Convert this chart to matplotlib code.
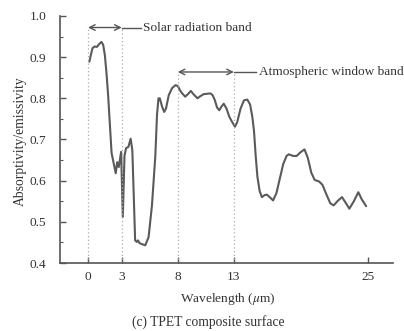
import numpy as np
import matplotlib
matplotlib.use("Agg")
import matplotlib.pyplot as plt
from matplotlib.ticker import MultipleLocator

plt.rcParams["font.family"] = ["Liberation Serif", "DejaVu Serif"]
plt.rcParams["mathtext.fontset"] = "stix"

# Absorptivity/emissivity spectrum of the TPET composite surface
wavelength = [0.12, 0.25, 0.4, 0.6, 0.8, 1.0, 1.2, 1.35, 1.5, 1.65, 1.8, 2.1,
              2.47, 2.6, 2.74, 2.95, 3.1, 3.25, 3.39, 3.6, 3.8, 3.95, 4.2, 4.35,
              4.45, 4.6, 5.1, 5.4, 5.7, 6.0, 6.15, 6.28, 6.4, 6.6, 6.79, 6.95,
              7.2, 7.5, 7.8, 8.0, 8.3, 8.66, 8.9, 9.17, 9.4, 9.76, 10.0, 10.3,
              10.9, 11.1, 11.3, 11.5, 11.7, 11.9, 12.1, 12.35, 12.6, 12.8, 13.1,
              13.3, 13.6, 13.9, 14.2, 14.45, 14.65, 14.8, 14.95, 15.1, 15.3,
              15.5, 15.75, 15.95, 16.2, 16.5, 16.8, 17.1, 17.4, 17.7, 17.9,
              18.3, 18.6, 18.9, 19.3, 19.6, 19.9, 20.2, 20.6, 20.9, 21.2, 21.6,
              21.9, 22.3, 22.65, 23.0, 23.3, 23.7, 24.1, 24.4, 24.8]
absorptivity = [0.889, 0.905, 0.922, 0.926, 0.925, 0.932, 0.937, 0.93, 0.905, 0.86, 0.804, 0.667,
                0.618, 0.645, 0.633, 0.67, 0.512, 0.66, 0.679, 0.682, 0.702, 0.674, 0.455, 0.451,
                0.455, 0.448, 0.443, 0.463, 0.54, 0.66, 0.76, 0.80, 0.80, 0.78, 0.767, 0.775,
                0.808, 0.825, 0.832, 0.830, 0.815, 0.804, 0.81, 0.818, 0.81, 0.80, 0.805, 0.81,
                0.812, 0.808, 0.796, 0.778, 0.771, 0.78, 0.787, 0.775, 0.755, 0.745, 0.731,
                0.742, 0.775, 0.795, 0.797, 0.785, 0.755, 0.72, 0.66, 0.61, 0.575,
                0.56, 0.565, 0.566, 0.56, 0.552, 0.57, 0.605, 0.64, 0.66, 0.664,
                0.66, 0.66, 0.668, 0.676, 0.655, 0.62, 0.602, 0.598, 0.59, 0.57, 0.545,
                0.54, 0.552, 0.56, 0.545, 0.532, 0.55, 0.572, 0.555, 0.538]

band_edges = [0, 3, 8, 13]
xtick_values = [0, 3, 8, 13, 25]

fig = plt.figure(figsize=(4.04, 3.31), dpi=100)
ax = fig.add_axes([0.1485, 0.2054, 0.8245, 0.7463])

ax.plot(wavelength, absorptivity, color="#5a5a5a", lw=1.5,
        solid_joinstyle="round", solid_capstyle="round")

# dotted guides marking the band limits
solar_y = 0.972
window_y = 0.864
for x in band_edges:
    top = solar_y if x < 5 else window_y
    ax.plot([x, x], [0.4, top], color="#aaaaaa", lw=0.9, ls=(0, (1, 2)))

# band arrows
arrow = dict(arrowstyle="<->", color="#555555", lw=1.0, shrinkA=0, shrinkB=0)
ax.annotate("", xy=(0, solar_y), xytext=(3, solar_y), arrowprops=arrow)
ax.plot([3, 4.7], [solar_y, solar_y], color="#555555", lw=1.0)
ax.text(4.9, solar_y, "Solar radiation band", va="center", ha="left", fontsize=9.6, color="#333333")

ax.annotate("", xy=(8, window_y), xytext=(13, window_y), arrowprops=arrow)
ax.plot([13, 15.0], [window_y, window_y], color="#555555", lw=1.0)
ax.text(15.2, window_y, "Atmospheric window band", va="center", ha="left", fontsize=9.6, color="#333333")

ax.set_xlim(-2.5, 27.2)
ax.set_ylim(0.4, 1.0)
ax.set_xticks(xtick_values)
ax.yaxis.set_major_locator(MultipleLocator(0.1))
ax.yaxis.set_minor_locator(MultipleLocator(0.05))
ax.set_yticklabels([f"{v:.1f}" for v in ax.get_yticks()])

for side in ["top", "right"]:
    ax.spines[side].set_visible(False)
for side in ["left", "bottom"]:
    ax.spines[side].set_color("#555555")
    ax.spines[side].set_linewidth(1.2)

ax.tick_params(axis="both", which="major", direction="in", length=4, width=1,
               colors="#555555", labelcolor="#333333", labelsize=9.6)
ax.tick_params(axis="y", which="minor", direction="in", length=2.5, width=0.8, colors="#555555")
ax.tick_params(axis="x", pad=6)
ax.tick_params(axis="y", which="major", pad=10)

ax.set_ylabel("Absorptivity/emissivity", fontsize=9.8, color="#333333")
ax.set_xlabel(r"Wavelength ($\mu$m)", fontsize=9.6, color="#333333")
ax.yaxis.set_label_coords(-0.10, 0.492)
ax.xaxis.set_label_coords(0.503, -0.115)

fig.text(0.516, 0.027, "(c) TPET composite surface", ha="center", va="center",
         fontsize=9.8, color="#333333")

fig.savefig("out.png", dpi=100)
